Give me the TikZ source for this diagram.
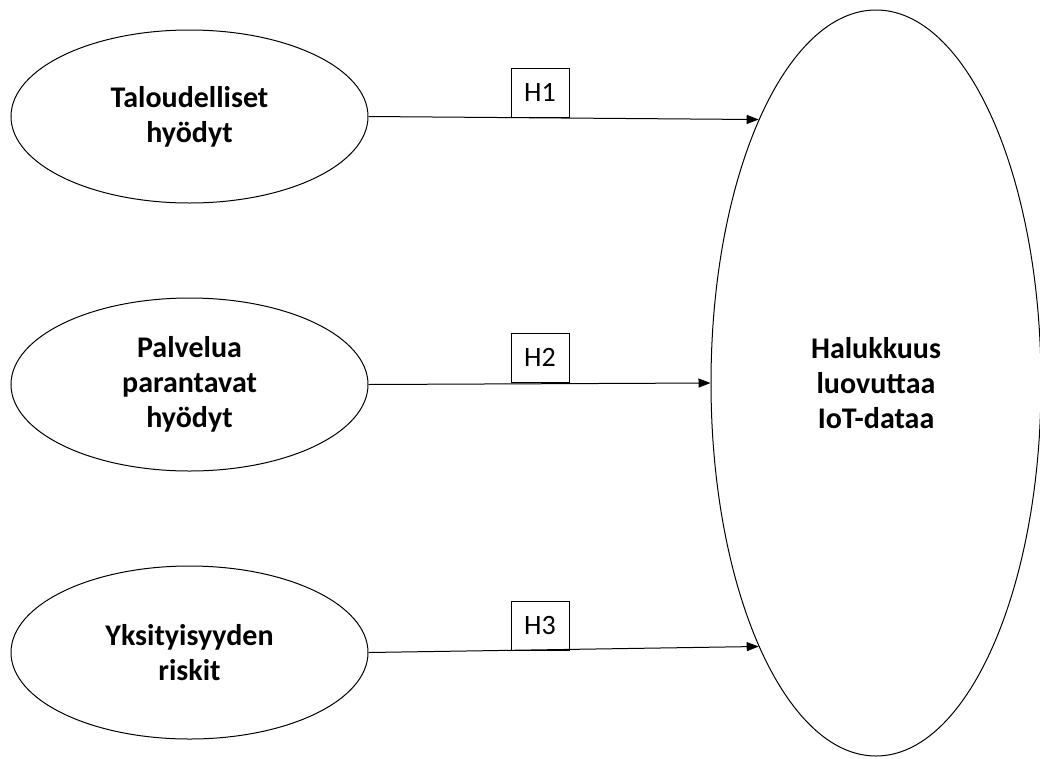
\documentclass[tikz,border=0pt]{standalone}
\usepackage{fontspec}
\setmainfont{Carlito}
\usetikzlibrary{shapes.geometric,arrows.meta}
\tikzset{
  factor/.style={ellipse, draw=black, line width=1pt, minimum width=357pt, minimum height=173pt, inner sep=0pt, align=center, font=\fontsize{30}{35}\selectfont\bfseries},
  target/.style={ellipse, draw=black, line width=1pt, minimum width=330pt, minimum height=746pt, inner sep=0pt, align=center, font=\fontsize{30}{35}\selectfont\bfseries},
  hyp/.style={draw=black, line width=0.9pt, minimum width=58pt, minimum height=49pt, inner sep=0pt, font=\fontsize{28}{30}\selectfont},
  link/.style={line width=1pt, -{Triangle[length=12pt,width=9pt]}, shorten >=0pt}
}
\begin{document}
\begin{tikzpicture}[x=1pt,y=1pt]
\useasboundingbox (0,0) rectangle (1040,-758);
\node[factor] (e1) at (189.5,-116.5) {Taloudelliset\\hyödyt};
\node[factor] (e2) at (189.5,-384.5) {Palvelua\\parantavat\\hyödyt};
\node[factor] (e3) at (189.5,-652.5) {Yksityisyyden\\riskit};
\node[target] (big) at (876,-383) {Halukkuus\\luovuttaa\\IoT-dataa};
\draw[link] (e1.east) -- (big.114);
\draw[link] (e2.east) -- (big.180);
\draw[link] (e3.east) -- (big.246);
\node[hyp] (h1) at (540,-92.5) {H1};
\node[hyp] (h2) at (540,-357.5) {H2};
\node[hyp] (h3) at (540,-625.5) {H3};
\end{tikzpicture}
\end{document}
